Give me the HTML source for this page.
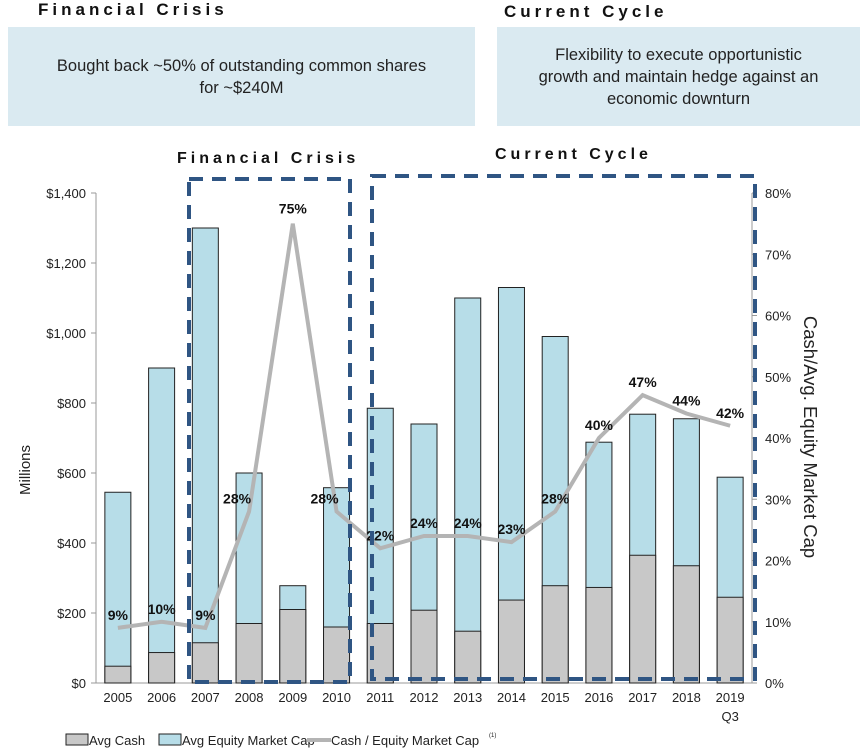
<!DOCTYPE html>
<html><head><meta charset="utf-8"><style>
body{margin:0;width:867px;height:756px;background:#fff;font-family:"Liberation Sans",sans-serif;position:relative;overflow:hidden}
.h{position:absolute;font-weight:bold;font-size:17px;letter-spacing:4px;color:#111}
.box{position:absolute;background:#daeaf1;font-size:16.5px;color:#222;text-align:center;display:flex;align-items:center;justify-content:center;line-height:22px}
</style></head><body>
<div class="h" style="left:38px;top:0px">Financial Crisis</div>
<div class="h" style="left:504px;top:2px">Current Cycle</div>
<div class="box" style="left:8px;top:27px;width:467px;height:99px">Bought back ~50% of outstanding common shares<br>for ~$240M</div>
<div class="box" style="left:497px;top:27px;width:363px;height:99px">Flexibility to execute opportunistic<br>growth and maintain hedge against an<br>economic downturn</div>
<svg id="c" width="867" height="756" style="position:absolute;left:0;top:0"></svg>
<script>
const years=["2005","2006","2007","2008","2009","2010","2011","2012","2013","2014","2015","2016","2017","2018","2019"];
const equity=[545,900,1300,600,278,558,785,740,1100,1130,990,688,768,755,588];
const cash=[48,87,115,170,210,160,170,208,148,237,278,273,365,335,245];
const ratio=[9,10,9,28,75,28,22,24,24,23,28,40,47,44,42];
const leftTicks=[0,200,400,600,800,1000,1200,1400];
const rightTicks=[0,10,20,30,40,50,60,70,80];
const svg=document.getElementById('c');const NS='http://www.w3.org/2000/svg';
const X0=96,X1=752,Y0=683,Y1=193,step=(X1-X0)/years.length;
const xc=i=>X0+step*(i+0.5);
const yL=v=>Y0-(v/1400)*(Y0-Y1);
const yR=v=>Y0-(v/80)*(Y0-Y1);
function mk(t,a,txt){const e=document.createElementNS(NS,t);for(const k in a)e.setAttribute(k,a[k]);if(txt!==undefined)e.textContent=txt;svg.appendChild(e);return e;}
leftTicks.forEach(v=>{const t=mk('text',{x:86,y:yL(v)+5,'text-anchor':'end','font-size':13,fill:'#222'},'$'+v.toLocaleString('en-US'));

mk('line',{x1:91,x2:96,y1:yL(v),y2:yL(v),stroke:'#999'});});
rightTicks.forEach(v=>{const t=mk('text',{x:765,y:yR(v)+5,'font-size':13,fill:'#222'},v+'%');

mk('line',{x1:752,x2:757,y1:yR(v),y2:yR(v),stroke:'#999'});});
mk('line',{x1:96,x2:96,y1:Y1,y2:Y0,stroke:'#999'});
mk('line',{x1:752,x2:752,y1:Y1,y2:Y0,stroke:'#999'});
mk('line',{x1:96,x2:752,y1:Y0,y2:Y0,stroke:'#999'});
years.forEach((y,i)=>{
const b=mk('rect',{x:xc(i)-13,y:yL(equity[i]),width:26,height:Y0-yL(equity[i]),fill:'#b7dde8',stroke:'#222','stroke-width':1});

const c=mk('rect',{x:xc(i)-13,y:yL(cash[i]),width:26,height:Y0-yL(cash[i]),fill:'#c8c8c8',stroke:'#222','stroke-width':1});

const t=mk('text',{x:xc(i),y:702,'text-anchor':'middle','font-size':13,fill:'#222'},y);

});
const q=mk('text',{x:xc(14),y:721,'text-anchor':'middle','font-size':13,fill:'#222'},'Q3');

const l=mk('polyline',{points:ratio.map((v,i)=>xc(i)+','+yR(v)).join(' '),fill:'none',stroke:'#b4b4b4','stroke-width':4});

ratio.forEach((v,i)=>{const t=mk('text',{x:xc(i)+(i==3?-12:i==5?-12:0),y:yR(v)-(i==4?10:8),'text-anchor':'middle','font-size':14,'font-weight':'bold',fill:'#111'},v+'%');
});
const d1=mk('rect',{x:189,y:179,width:161,height:503,fill:'none',stroke:'#2f5583','stroke-width':4,'stroke-dasharray':'14,9'});

const d2=mk('rect',{x:372,y:176,width:383,height:503,fill:'none',stroke:'#2f5583','stroke-width':4,'stroke-dasharray':'14,9'});

const h1=mk('text',{x:177,y:163,'font-size':16,'font-weight':'bold','letter-spacing':4,fill:'#111'},'Financial Crisis');

const h2=mk('text',{x:495,y:159,'font-size':16,'font-weight':'bold','letter-spacing':4,fill:'#111'},'Current Cycle');

const ya=mk('text',{x:0,y:0,'font-size':15,fill:'#222','text-anchor':'middle',transform:'translate(30,470) rotate(-90)'},'Millions');

const yb=mk('text',{x:0,y:0,'font-size':18.5,fill:'#222','text-anchor':'middle',transform:'translate(804,437) rotate(90)'},'Cash/Avg. Equity Market Cap');

const g1=mk('rect',{x:66,y:734,width:22,height:11,fill:'#c8c8c8',stroke:'#222'});
const t1=mk('text',{x:89,y:745,'font-size':13,fill:'#222'},'Avg Cash');
const g2=mk('rect',{x:159,y:734,width:22,height:11,fill:'#b7dde8',stroke:'#222'});
const t2=mk('text',{x:182,y:745,'font-size':13,fill:'#222'},'Avg Equity Market Cap');
const g3=mk('line',{x1:307,x2:331,y1:740,y2:740,stroke:'#b4b4b4','stroke-width':4});
const t3=mk('text',{x:331,y:745,'font-size':13,fill:'#222'},'Cash / Equity Market Cap');
const s=mk('text',{x:489,y:737,'font-size':6,fill:'#222'},'(1)');
</script>
</body></html>
